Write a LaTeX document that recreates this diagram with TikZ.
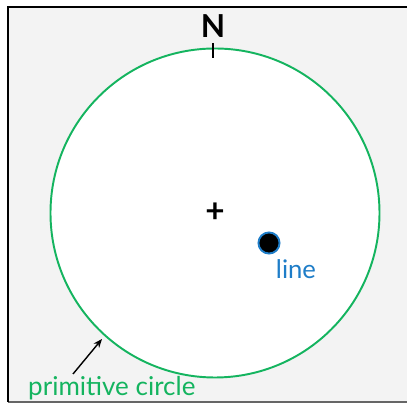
\documentclass[tikz,border=0pt]{standalone}
\usepackage{fontspec}
\setmainfont{Lato}
\usetikzlibrary{arrows.meta}
\definecolor{primgreen}{RGB}{20,180,95}
\definecolor{lineblue}{RGB}{30,125,200}
\definecolor{panelgray}{RGB}{243,243,243}
\begin{document}
\begin{tikzpicture}[x=0.02cm,y=-0.02cm]
    \useasboundingbox (0,0) rectangle (407,405);
    \fill[panelgray] (8,7) rectangle (407,402);
    \draw[black!60,line width=0.6pt] (8,402) -- (407,402);
    \draw[line width=1.5pt] (8,402) -- (8,7) -- (407,7);
    \coordinate (o) at (215,213);
    \draw[fill=white,draw=primgreen,line width=1.1pt] (o) circle[radius=164.5];
    \draw[line width=0.7pt] (213,43) -- (213,58);
    \node[font=\bfseries\fontsize{18}{18}\selectfont] (north) at (213,26) {N};
    \node[font=\bfseries\fontsize{19}{19}\selectfont] (centre) at (o) {+};
    \node[circle,fill=black,draw=lineblue,line width=1.1pt,minimum size=12pt,inner sep=0pt] (pole) at (269,243) {};
    \node[text=lineblue,font=\fontsize{14.6}{14.6}\selectfont] (polelabel) at (296,269) {line};
    \node[text=primgreen,font=\fontsize{14.8}{14.8}\selectfont,anchor=west] (primlabel) at (22,388) {primitive circle};
    \coordinate (primtip) at (102,339);
    \draw[-{Stealth[length=5pt,width=4pt]},line width=0.8pt] (73,374) -- (primtip);
\end{tikzpicture}
\end{document}
